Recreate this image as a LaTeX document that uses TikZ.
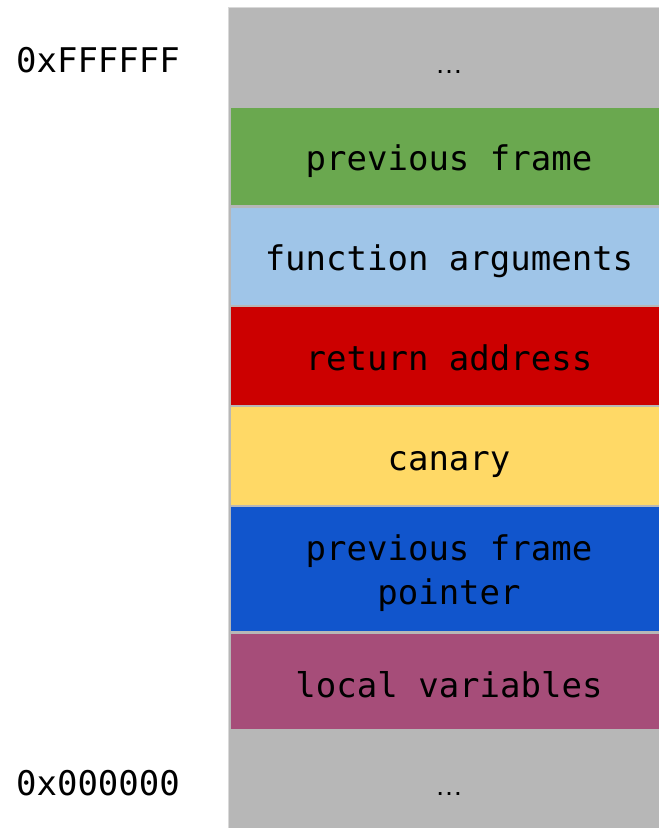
\documentclass[tikz,border=0pt]{standalone}
\usepackage{fontspec}
\setmonofont{DejaVu Sans Mono}
\newfontfamily\dotsfont{Liberation Sans}
\definecolor{stackgray}{HTML}{B7B7B7}
\definecolor{edgegray}{HTML}{D9D9D9}
\definecolor{cgreen}{HTML}{6AA84F}
\definecolor{clblue}{HTML}{9FC5E8}
\definecolor{cred}{HTML}{CC0000}
\definecolor{cyellow}{HTML}{FFD966}
\definecolor{cblue}{HTML}{1155CC}
\definecolor{cpurple}{HTML}{A64D79}
\begin{document}
\begin{tikzpicture}[x=1pt,y=-1pt,
  every node/.style={font=\ttfamily\fontsize{34}{44}\selectfont, text=black, inner sep=0pt},
  slot/.style={draw=stackgray, line width=1.6pt, rectangle, minimum width=438pt},
  lbl/.style={align=center, anchor=center},
  ell/.style={font=\dotsfont\fontsize{28}{30}\selectfont, anchor=base},
  addr/.style={anchor=center}]
\useasboundingbox (0,0) rectangle (659,828);
\fill[white] (0,0) rectangle (659,828);
% stack column
\filldraw[fill=stackgray, draw=edgegray, line width=1.2pt] (228.6,7.6) rectangle (680,840);
\node[slot, draw=none, fill=stackgray, minimum height=99pt] (top) at (449,57) {};
\node[slot, fill=cgreen,  minimum height=99pt] (prev)  at (449,156.5) {};
\node[slot, fill=clblue,  minimum height=99pt] (args)  at (449,256.5) {};
\node[slot, fill=cred,    minimum height=99pt] (ret)   at (449,356) {};
\node[slot, fill=cyellow, minimum height=99pt] (can)   at (449,456) {};
\node[slot, fill=cblue,   minimum height=125pt] (fp)   at (449,569) {};
\node[slot, fill=cpurple, minimum height=97pt] (loc)   at (449,681.5) {};
\node[slot, draw=none, fill=stackgray, minimum height=96pt] (bot) at (449,780) {};
\node[ell] (topdots) at ([yshift=-16pt]top.center) {…};
\node[lbl] (prevt) at ([yshift=-5pt]prev.center) {previous frame};
\node[lbl] (argst) at ([yshift=-5pt]args.center) {function arguments};
\node[lbl] (rett)  at ([yshift=-2pt]ret.center) {return address};
\node[lbl] (cant)  at ([yshift=-9pt]can.center) {canary};
\node[lbl] (fpt)   at ([yshift=-4pt]fp.center) {previous frame\\pointer};
\node[lbl] (loct)  at ([yshift=-3pt]loc.center) {local variables};
\node[ell] (botdots) at ([yshift=-15pt]bot.center) {…};
\node[addr] (hi) at (98,60) {0xFFFFFF};
\node[addr] (lo) at (98,783) {0x000000};
\end{tikzpicture}
\end{document}
